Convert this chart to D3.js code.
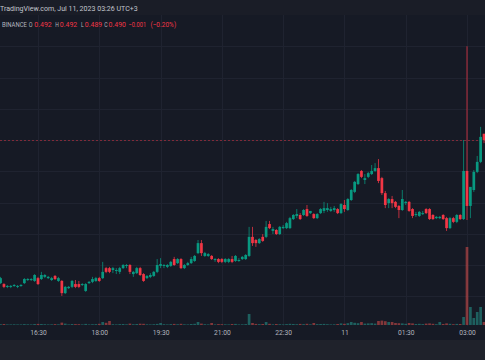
<!DOCTYPE html>
<html><head><meta charset="utf-8">
<script src="https://cdn.jsdelivr.net/npm/d3@7"></script>
<style>html,body{margin:0;padding:0;background:#161a25;overflow:hidden}</style>
</head><body>
<svg id="c" width="485" height="360"></svg>
<script>
// ---------- data ----------
const startTime = new Date(2023, 6, 10, 15, 35); // first visible 5m candle
const stepMinutes = 5;
const open = [
0.4442,0.4439,0.4430,0.4430,0.4433,0.4430,0.4433,0.4442,0.4452,0.4452,
0.4449,0.4458,0.4455,0.4462,0.4458,0.4452,0.4465,0.4449,0.4449,0.4410,
0.4426,0.4430,0.4439,0.4439,0.4436,0.4417,0.4442,0.4446,0.4449,0.4458,
0.4458,0.4490,0.4490,0.4484,0.4481,0.4478,0.4490,0.4497,0.4500,0.4471,
0.4474,0.4490,0.4471,0.4458,0.4462,0.4465,0.4478,0.4497,0.4497,0.4494,
0.4497,0.4519,0.4506,0.4519,0.4490,0.4500,0.4506,0.4513,0.4538,0.4570,
0.4529,0.4529,0.4529,0.4516,0.4519,0.4519,0.4510,0.4510,0.4519,0.4513,
0.4513,0.4519,0.4519,0.4529,0.4590,0.4580,0.4570,0.4590,0.4590,0.4631,
0.4609,0.4612,0.4599,0.4618,0.4618,0.4618,0.4647,0.4657,0.4660,0.4660,
0.4679,0.4666,0.4663,0.4650,0.4666,0.4673,0.4676,0.4673,0.4676,0.4679,
0.4666,0.4692,0.4676,0.4708,0.4734,0.4759,0.4801,0.4772,0.4782,0.4791,
0.4801,0.4810,0.4778,0.4730,0.4698,0.4711,0.4702,0.4689,0.4676,0.4698,
0.4702,0.4679,0.4660,0.4657,0.4663,0.4679,0.4679,0.4660,0.4650,0.4650,
0.4660,0.4650,0.4618,0.4650,0.4638,0.4660,0.4647,0.4801,0.4689,0.4740,
0.4798,0.4830,0.4920];
const high = [
0.4462,0.4442,0.4436,0.4436,0.4439,0.4436,0.4439,0.4458,0.4458,0.4458,
0.4471,0.4462,0.4478,0.4471,0.4465,0.4462,0.4468,0.4462,0.4452,0.4433,
0.4433,0.4452,0.4452,0.4449,0.4442,0.4442,0.4449,0.4462,0.4462,0.4462,
0.4510,0.4494,0.4494,0.4494,0.4490,0.4494,0.4503,0.4503,0.4503,0.4481,
0.4494,0.4494,0.4474,0.4468,0.4474,0.4481,0.4519,0.4522,0.4503,0.4503,
0.4513,0.4526,0.4522,0.4522,0.4503,0.4510,0.4526,0.4532,0.4580,0.4580,
0.4542,0.4538,0.4532,0.4522,0.4522,0.4522,0.4522,0.4522,0.4529,0.4532,
0.4522,0.4529,0.4535,0.4622,0.4622,0.4583,0.4586,0.4599,0.4641,0.4641,
0.4622,0.4615,0.4625,0.4628,0.4638,0.4654,0.4663,0.4679,0.4666,0.4679,
0.4692,0.4673,0.4666,0.4666,0.4682,0.4702,0.4698,0.4686,0.4689,0.4682,
0.4698,0.4708,0.4714,0.4743,0.4769,0.4794,0.4804,0.4791,0.4798,0.4820,
0.4826,0.4839,0.4782,0.4737,0.4714,0.4721,0.4705,0.4692,0.4740,0.4705,
0.4705,0.4682,0.4670,0.4673,0.4673,0.4682,0.4682,0.4663,0.4657,0.4657,
0.4663,0.4654,0.4654,0.4654,0.4663,0.4663,0.4900,0.5200,0.4695,0.4804,
0.4849,0.4942,0.4920];
const low = [
0.4439,0.4426,0.4426,0.4426,0.4430,0.4426,0.4430,0.4439,0.4449,0.4449,
0.4446,0.4436,0.4452,0.4458,0.4455,0.4449,0.4452,0.4446,0.4401,0.4407,
0.4423,0.4426,0.4426,0.4426,0.4433,0.4414,0.4439,0.4442,0.4446,0.4446,
0.4455,0.4474,0.4474,0.4474,0.4471,0.4471,0.4487,0.4490,0.4471,0.4462,
0.4471,0.4465,0.4446,0.4455,0.4458,0.4462,0.4474,0.4490,0.4490,0.4490,
0.4494,0.4497,0.4503,0.4487,0.4487,0.4497,0.4503,0.4510,0.4535,0.4529,
0.4526,0.4526,0.4516,0.4510,0.4506,0.4506,0.4506,0.4506,0.4506,0.4510,
0.4510,0.4516,0.4516,0.4526,0.4561,0.4558,0.4567,0.4574,0.4586,0.4615,
0.4599,0.4596,0.4596,0.4615,0.4615,0.4615,0.4644,0.4650,0.4644,0.4657,
0.4654,0.4663,0.4647,0.4647,0.4663,0.4666,0.4670,0.4670,0.4670,0.4663,
0.4663,0.4670,0.4673,0.4705,0.4730,0.4756,0.4778,0.4759,0.4778,0.4788,
0.4798,0.4762,0.4724,0.4682,0.4682,0.4682,0.4682,0.4650,0.4673,0.4692,
0.4670,0.4650,0.4654,0.4654,0.4660,0.4663,0.4644,0.4644,0.4647,0.4647,
0.4644,0.4609,0.4615,0.4634,0.4634,0.4644,0.4644,0.4644,0.4650,0.4734,
0.4794,0.4826,0.4890];
const close = [
0.4458,0.4430,0.4433,0.4433,0.4436,0.4433,0.4436,0.4455,0.4455,0.4455,
0.4468,0.4439,0.4468,0.4468,0.4462,0.4458,0.4455,0.4458,0.4410,0.4430,
0.4430,0.4449,0.4430,0.4430,0.4439,0.4439,0.4446,0.4455,0.4458,0.4449,
0.4478,0.4478,0.4478,0.4490,0.4484,0.4490,0.4500,0.4500,0.4478,0.4478,
0.4490,0.4468,0.4449,0.4465,0.4468,0.4478,0.4500,0.4503,0.4500,0.4500,
0.4510,0.4500,0.4519,0.4490,0.4500,0.4506,0.4519,0.4529,0.4570,0.4538,
0.4538,0.4535,0.4519,0.4519,0.4510,0.4510,0.4519,0.4519,0.4510,0.4529,
0.4516,0.4526,0.4532,0.4590,0.4570,0.4570,0.4583,0.4577,0.4622,0.4618,
0.4615,0.4599,0.4622,0.4622,0.4634,0.4650,0.4660,0.4663,0.4647,0.4676,
0.4657,0.4673,0.4650,0.4663,0.4679,0.4682,0.4682,0.4679,0.4682,0.4666,
0.4695,0.4679,0.4711,0.4740,0.4766,0.4791,0.4782,0.4778,0.4794,0.4801,
0.4810,0.4769,0.4730,0.4692,0.4711,0.4698,0.4686,0.4676,0.4711,0.4702,
0.4673,0.4657,0.4663,0.4670,0.4666,0.4666,0.4647,0.4647,0.4654,0.4654,
0.4647,0.4618,0.4650,0.4638,0.4660,0.4647,0.4801,0.4689,0.4750,0.4798,
0.4830,0.4910,0.4900];
const volume = [
40,50,30,30,35,30,30,45,35,30,
50,55,50,40,30,35,45,35,120,70,
30,50,45,40,30,55,30,40,45,60,
150,110,200,40,30,45,50,35,70,40,
50,65,60,35,30,40,55,100,40,30,
45,55,40,60,35,30,50,60,150,70,
40,30,100,30,45,40,35,30,50,55,
30,35,45,550,100,55,45,50,150,60,
35,50,40,30,45,60,50,40,55,45,
60,35,100,45,50,55,40,30,35,50,
80,60,90,150,110,90,150,70,80,90,
70,200,220,190,150,150,100,90,80,60,
100,80,50,60,45,70,80,60,40,150,
50,80,60,40,55,50,400,3900,900,350,
650,900,150];
const tickTimes = [
  new Date(2023,6,10,16,30), new Date(2023,6,10,18,0), new Date(2023,6,10,19,30),
  new Date(2023,6,10,21,0), new Date(2023,6,10,22,30), new Date(2023,6,11,0,0),
  new Date(2023,6,11,1,30), new Date(2023,6,11,3,0)];
const tickLabels = ["16:30","18:00","19:30","21:00","22:30","11","01:30","03:00"];
const priceGrid = [0.44,0.45,0.46,0.47,0.48,0.49,0.50,0.51,0.52];
const headerText = "TradingView.com, Jul 11, 2023 03:26 UTC+3";
const symbolName = "BINANCE";

// ---------- styles ----------
const UP = "#089981", DOWN = "#f23645";
const UPV = "rgba(38,166,154,0.5)", DOWNV = "rgba(239,83,80,0.5)";
const TXT = "#b2b5be";
const FONT = "Roboto, 'Noto Sans', sans-serif";

const svg = d3.select("#c");
const W = 485, H = 360;

svg.append("rect").attr("width", W).attr("height", H).attr("fill", "#161a25");
svg.append("rect").attr("width", W).attr("height", 15).attr("fill", "#1a1d27");
svg.append("rect").attr("y", 340).attr("width", W).attr("height", 20).attr("fill", "#1f222b");

const x = d3.scaleTime().domain([tickTimes[0], tickTimes[tickTimes.length-1]]).range([38, 467]);
const y = d3.scaleLinear().domain([0.44, 0.52]).range([296.25, 46.25]);
const yv = d3.scaleLinear().domain([0, 3900]).range([325, 247]);

const data = open.map((o, i) => ({
  t: new Date(startTime.getTime() + i * stepMinutes * 60000),
  o, h: high[i], l: low[i], c: close[i], v: volume[i]
}));

// grid
const grid = svg.append("g").attr("shape-rendering", "crispEdges");
grid.selectAll("line.h").data(priceGrid).join("line").attr("class","h")
  .attr("x1", 0).attr("x2", W)
  .attr("y1", d => Math.round(y(d)) + 0.5).attr("y2", d => Math.round(y(d)) + 0.5)
  .attr("stroke", "#1f2330");
grid.selectAll("line.v").data(tickTimes).join("line").attr("class","v")
  .attr("y1", 15).attr("y2", 326)
  .attr("x1", d => Math.round(x(d)) + 0.5).attr("x2", d => Math.round(x(d)) + 0.5)
  .attr("stroke", "#1f2330");

// volume
const bw = 2.7;
svg.append("g").selectAll("rect").data(data).join("rect")
  .attr("x", d => x(d.t) - bw/2).attr("width", bw)
  .attr("y", d => yv(d.v)).attr("height", d => yv(0) - yv(d.v))
  .attr("fill", d => d.c >= d.o ? UPV : DOWNV);

// last price line
const last = data[data.length-1];
svg.append("line").attr("x1", 0).attr("x2", W)
  .attr("y1", Math.round(y(last.c)) + 0.5).attr("y2", Math.round(y(last.c)) + 0.5)
  .attr("stroke", DOWN).attr("stroke-opacity", 0.45).attr("stroke-dasharray", "2,2");

// candles
const cg = svg.append("g");
cg.selectAll("line").data(data).join("line")
  .attr("x1", d => x(d.t)).attr("x2", d => x(d.t))
  .attr("y1", d => y(d.h)).attr("y2", d => y(d.l))
  .attr("stroke", d => d.c >= d.o ? UP : DOWN).attr("stroke-width", 1).attr("stroke-opacity", 0.75);
cg.selectAll("rect").data(data).join("rect")
  .attr("x", d => x(d.t) - bw/2).attr("width", bw)
  .attr("y", d => y(Math.max(d.o, d.c)))
  .attr("height", d => Math.max(1, Math.abs(y(d.o) - y(d.c))))
  .attr("fill", d => d.c >= d.o ? UP : DOWN);

// time axis
const ax = svg.append("g").attr("transform", "translate(0,327.5)")
  .call(d3.axisBottom(x).tickValues(tickTimes).tickFormat((d, i) => tickLabels[i]).tickSize(0).tickPadding(3));
ax.select(".domain").remove();
ax.selectAll("text").attr("fill", TXT).attr("font-size", "6.7px").attr("font-family", FONT);

// helper: text squeezed horizontally to a target width (condensed look of the original)
function squeezed(sel, str, px, py, w, col) {
  const t = sel.append("text").attr("x", 0).attr("y", 0).attr("fill", col)
    .attr("font-size", "8px").attr("font-family", FONT).text(str);
  const nat = t.node().getComputedTextLength() || w;
  t.attr("transform", `translate(${px},${py}) scale(${w / nat},1)`);
  return t;
}

// header
squeezed(svg, headerText, 0, 10.7, 138, "#c3c6ce");

// legend
const f3 = d3.format(".3f");
const prevClose = data[data.length-2].c;
const chg = last.c - prevClose;
const pct = chg / prevClose * 100;
const legendParts = [
  {t: symbolName, x: 2, col: TXT, w: 25},
  {t: "O", x: 28.8, col: TXT, w: 3.8}, {t: f3(last.o), x: 34.2, col: DOWN, w: 17.6},
  {t: "H", x: 55.2, col: TXT, w: 3.6}, {t: f3(last.h), x: 59.8, col: DOWN, w: 17.4},
  {t: "L", x: 81, col: TXT, w: 2.8}, {t: f3(last.l), x: 84.8, col: DOWN, w: 17.4},
  {t: "C", x: 104.2, col: TXT, w: 3.4}, {t: f3(last.c), x: 108.6, col: DOWN, w: 17.4},
  {t: d3.format(".3f")(chg), x: 128.6, col: DOWN, w: 17.6},
  {t: "(" + d3.format(".2f")(pct) + "%)", x: 150.4, col: DOWN, w: 25.8}
];
const lg = svg.append("g");
legendParts.forEach(p => squeezed(lg, p.t, p.x, 26.5, p.w, p.col));
</script>
</body></html>
